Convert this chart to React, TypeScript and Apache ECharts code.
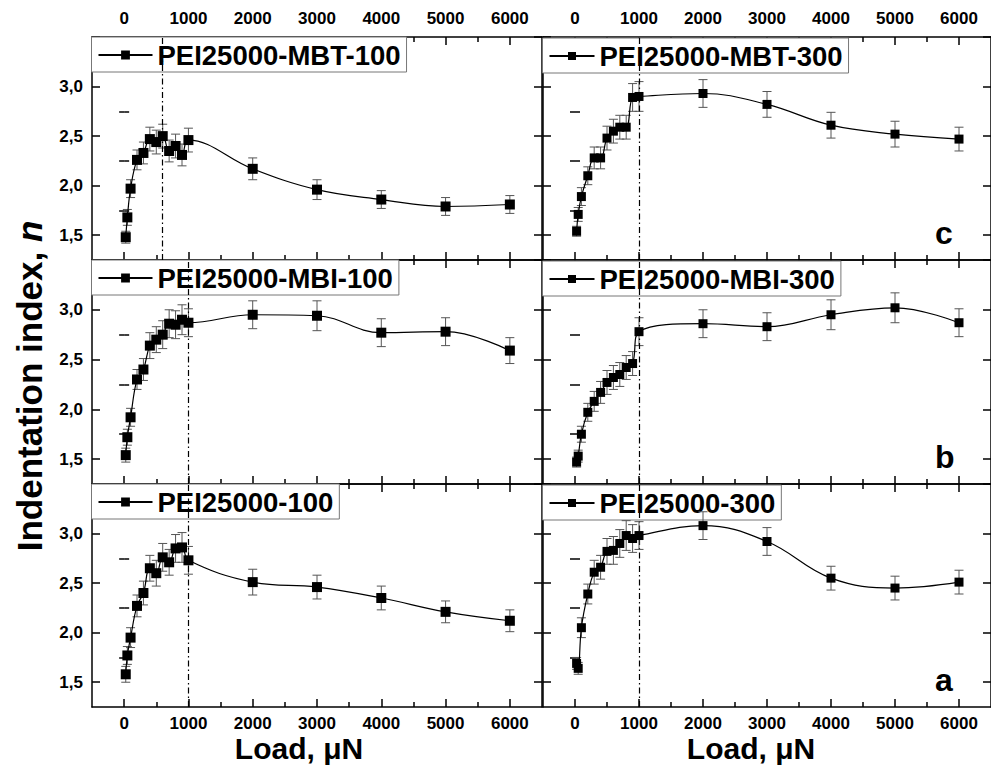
import React, { useEffect, useRef } from "react";
import * as echarts from "echarts";

const loads = [25, 50, 100, 200, 300, 400, 500, 600, 700, 800, 900, 1000, 2000, 3000, 4000, 5000, 6000];

const seriesNames = [
  "PEI25000-MBT-100",
  "PEI25000-MBI-100",
  "PEI25000-100",
  "PEI25000-MBT-300",
  "PEI25000-MBI-300",
  "PEI25000-300",
];

const mbt100 = [1.48, 1.68, 1.97, 2.26, 2.33, 2.47, 2.44, 2.5, 2.35, 2.4, 2.31, 2.46, 2.17, 1.96, 1.86, 1.79, 1.81];
const mbt100Err = [0.06, 0.08, 0.09, 0.1, 0.11, 0.12, 0.12, 0.12, 0.11, 0.12, 0.11, 0.12, 0.11, 0.1, 0.09, 0.09, 0.09];

const mbi100 = [1.54, 1.72, 1.92, 2.3, 2.4, 2.64, 2.7, 2.75, 2.86, 2.85, 2.9, 2.87, 2.95, 2.94, 2.77, 2.78, 2.59];
const mbi100Err = [0.07, 0.08, 0.09, 0.1, 0.11, 0.13, 0.13, 0.14, 0.14, 0.14, 0.15, 0.14, 0.14, 0.15, 0.14, 0.14, 0.13];

const pei100 = [1.58, 1.77, 1.95, 2.27, 2.4, 2.65, 2.6, 2.76, 2.71, 2.85, 2.86, 2.73, 2.51, 2.46, 2.35, 2.21, 2.12];
const pei100Err = [0.08, 0.09, 0.1, 0.11, 0.12, 0.13, 0.13, 0.14, 0.13, 0.14, 0.15, 0.14, 0.13, 0.12, 0.12, 0.11, 0.11];

const mbt300 = [1.54, 1.71, 1.89, 2.1, 2.28, 2.28, 2.48, 2.55, 2.59, 2.59, 2.89, 2.9, 2.93, 2.82, 2.61, 2.52, 2.47];
const mbt300Err = [0.05, 0.07, 0.09, 0.09, 0.11, 0.11, 0.12, 0.12, 0.12, 0.12, 0.14, 0.15, 0.14, 0.13, 0.13, 0.13, 0.12];

const mbi300 = [1.47, 1.53, 1.75, 1.97, 2.08, 2.17, 2.27, 2.32, 2.35, 2.42, 2.46, 2.78, 2.86, 2.83, 2.95, 3.02, 2.87];
const mbi300Err = [0.05, 0.06, 0.08, 0.09, 0.1, 0.11, 0.12, 0.12, 0.12, 0.12, 0.12, 0.14, 0.14, 0.14, 0.15, 0.15, 0.14];

const pei300 = [1.69, 1.64, 2.05, 2.39, 2.61, 2.66, 2.82, 2.83, 2.9, 2.98, 2.95, 2.98, 3.08, 2.92, 2.55, 2.45, 2.51];
const pei300Err = [0.06, 0.06, 0.1, 0.1, 0.12, 0.12, 0.13, 0.14, 0.14, 0.15, 0.14, 0.14, 0.14, 0.14, 0.12, 0.12, 0.12];

const panelValues = [mbt100, mbi100, pei100, mbt300, mbi300, pei300];
const panelErrors = [mbt100Err, mbi100Err, pei100Err, mbt300Err, mbi300Err, pei300Err];
const guideLoads = [600, 1000, 1000, 1000, 1000, 1000];
const panelLetters = ["", "", "", "c", "b", "a"];

const xMajorTicks = [0, 1000, 2000, 3000, 4000, 5000, 6000];
const xMinorTicks = [500, 1500, 2500, 3500, 4500, 5500];
const yMajorTicks = [1.5, 2.0, 2.5, 3.0, 3.5];
const yMinorTicks = [1.75, 2.25, 2.75, 3.25];
const yLabelTicks = [1.5, 2.0, 2.5, 3.0];

const FONT = "'Liberation Sans', Arial, Helvetica, sans-serif";

export default function App() {
  const ref = useRef<HTMLDivElement>(null);

  useEffect(() => {
    if (!ref.current) return;
    const chart = echarts.init(ref.current, null, { renderer: "svg" });

    const colLeft = [92, 543];
    const colWidth = [450, 453];
    const rowTop = [37, 260, 484];
    const rowHeight = [223, 224, 223];

    const grids: any[] = [];
    const xAxes: any[] = [];
    const yAxes: any[] = [];
    const series: any[] = [];
    const legends: any[] = [];
    const graphics: any[] = [];

    const axisLine = { show: true, onZero: false, lineStyle: { color: "#000", width: 1.5 } };
    const labelStyle = { color: "#000", fontSize: 17, fontWeight: "bold", fontFamily: FONT };

    for (let p = 0; p < 6; p++) {
      const col = p < 3 ? 0 : 1;
      const row = p % 3;
      grids.push({
        left: colLeft[col],
        top: rowTop[row],
        width: colWidth[col],
        height: rowHeight[row],
        containLabel: false,
      });
      const baseX = {
        type: "value",
        gridIndex: p,
        min: -500,
        max: 6500,
        splitLine: { show: false },
      };
      xAxes.push({
        ...baseX,
        position: "bottom",
        axisLine,
        axisTick: { show: true, inside: true, length: 8, customValues: xMajorTicks, lineStyle: { color: "#000", width: 1.5 } },
        axisLabel: { show: row === 2, customValues: xMajorTicks, margin: 8, ...labelStyle, formatter: (v: number) => String(v) },
      });
      xAxes.push({
        ...baseX,
        position: "bottom",
        axisLine: { show: false },
        axisTick: { show: true, inside: true, length: 5, customValues: xMinorTicks, lineStyle: { color: "#000", width: 1.5 } },
        axisLabel: { show: false },
      });
      xAxes.push({
        ...baseX,
        position: "top",
        axisLine,
        axisTick: { show: true, inside: true, length: 8, customValues: xMajorTicks, lineStyle: { color: "#000", width: 1.5 } },
        axisLabel: { show: row === 0, customValues: xMajorTicks, margin: 10, ...labelStyle, formatter: (v: number) => String(v) },
      });
      xAxes.push({
        ...baseX,
        position: "top",
        axisLine: { show: false },
        axisTick: { show: true, inside: true, length: 5, customValues: xMinorTicks, lineStyle: { color: "#000", width: 1.5 } },
        axisLabel: { show: false },
      });

      const baseY = {
        type: "value",
        gridIndex: p,
        min: 1.25,
        max: 3.5,
        splitLine: { show: false },
      };
      yAxes.push({
        ...baseY,
        position: "left",
        axisLine,
        axisTick: { show: true, inside: true, length: 8, customValues: yMajorTicks, lineStyle: { color: "#000", width: 1.5 } },
        axisLabel: {
          show: col === 0,
          customValues: yLabelTicks,
          margin: 9,
          ...labelStyle,
          formatter: (v: number) => v.toFixed(1).replace(".", ","),
        },
      });
      yAxes.push({
        ...baseY,
        position: "left",
        axisLine: { show: false },
        axisTick: { show: true, inside: true, length: 5, customValues: yMinorTicks, lineStyle: { color: "#000", width: 1.5 } },
        axisLabel: { show: false },
      });
      yAxes.push({
        ...baseY,
        position: "right",
        axisLine,
        axisTick: { show: true, inside: true, length: 8, customValues: yMajorTicks, lineStyle: { color: "#000", width: 1.5 } },
        axisLabel: { show: false },
      });
      yAxes.push({
        ...baseY,
        position: "right",
        axisLine: { show: false },
        axisTick: { show: true, inside: true, length: 5, customValues: yMinorTicks, lineStyle: { color: "#000", width: 1.5 } },
        axisLabel: { show: false },
      });

      const vals = panelValues[p];
      const errs = panelErrors[p];
      const lineData = loads.map((x, i) => [x, vals[i]]);
      const errData = loads.map((x, i) => [x, vals[i], errs[i]]);

      series.push({
        type: "custom",
        xAxisIndex: p * 4,
        yAxisIndex: p * 4,
        z: p === 5 ? 5 : 1,
        silent: true,
        encode: { x: 0, y: 1 },
        data: errData,
        renderItem: (params: any, api: any) => {
          const x = api.value(0);
          const y = api.value(1);
          const e = api.value(2);
          const t = api.coord([x, y + e]);
          const b = api.coord([x, y - e]);
          const hw = 4.5;
          const st = { stroke: "#555", lineWidth: 1 };
          return {
            type: "group",
            children: [
              { type: "line", shape: { x1: t[0], y1: t[1], x2: b[0], y2: b[1] }, style: st },
              { type: "line", shape: { x1: t[0] - hw, y1: t[1], x2: t[0] + hw, y2: t[1] }, style: st },
              { type: "line", shape: { x1: b[0] - hw, y1: b[1], x2: b[0] + hw, y2: b[1] }, style: st },
            ],
          };
        },
      });

      series.push({
        type: "line",
        name: seriesNames[p],
        xAxisIndex: p * 4,
        yAxisIndex: p * 4,
        z: p === 5 ? 6 : 2,
        data: lineData,
        symbol: "rect",
        symbolSize: col === 0 ? 10 : 9,
        smooth: 0.4,
        itemStyle: { color: "#000" },
        lineStyle: { color: "#000", width: 1.2 },
        markLine: {
          silent: true,
          symbol: "none",
          label: { show: false },
          lineStyle: { color: "#000", width: 1.2, type: [6, 3, 1.5, 3] },
          data: [{ xAxis: guideLoads[p] }],
        },
      });

      legends.push({
        data: [seriesNames[p]],
        left: colLeft[col] - 0.5,
        top: col === 0 ? rowTop[row] : rowTop[row] + 1,
        orient: "horizontal",
        backgroundColor: "#fff",
        borderColor: "#777",
        borderWidth: 1,
        borderRadius: 0,
        padding: [4, 6, 3, 6],
        itemWidth: col === 0 ? 54 : 45,
        itemHeight: col === 0 ? 11 : 10,
        selectedMode: false,
        textStyle: { color: "#000", fontSize: 27.5, fontWeight: "bold", fontFamily: FONT },
      });

      if (panelLetters[p]) {
        graphics.push({
          type: "text",
          left: 935,
          top: rowTop[row] + rowHeight[row] - 43,
          style: {
            text: panelLetters[p],
            fill: "#000",
            font: `bold 32px ${FONT}`,
          },
        });
      }
    }

    graphics.push({
      type: "text",
      x: 29,
      y: 386,
      rotation: Math.PI / 2,
      style: {
        text: "{a|Indentation index, }{b|n}",
        align: "center",
        verticalAlign: "middle",
        rich: {
          a: { fill: "#000", font: `bold 35px ${FONT}` },
          b: { fill: "#000", font: `italic bold 35px ${FONT}` },
        },
      },
    });
    graphics.push({
      type: "text",
      x: 299,
      y: 748,
      style: { text: "Load, μN", fill: "#000", font: `bold 30px ${FONT}`, align: "center", verticalAlign: "middle" },
    });
    graphics.push({
      type: "text",
      x: 751,
      y: 748,
      style: { text: "Load, μN", fill: "#000", font: `bold 30px ${FONT}`, align: "center", verticalAlign: "middle" },
    });

    chart.setOption({
      animation: false,
      backgroundColor: "#fff",
      grid: grids,
      xAxis: xAxes,
      yAxis: yAxes,
      legend: legends,
      series,
      graphic: graphics,
    });

    return () => chart.dispose();
  }, []);

  return (
    <div
      ref={ref}
      style={{ position: "absolute", left: 0, top: 0, width: 991, height: 778, background: "#fff" }}
    />
  );
}
